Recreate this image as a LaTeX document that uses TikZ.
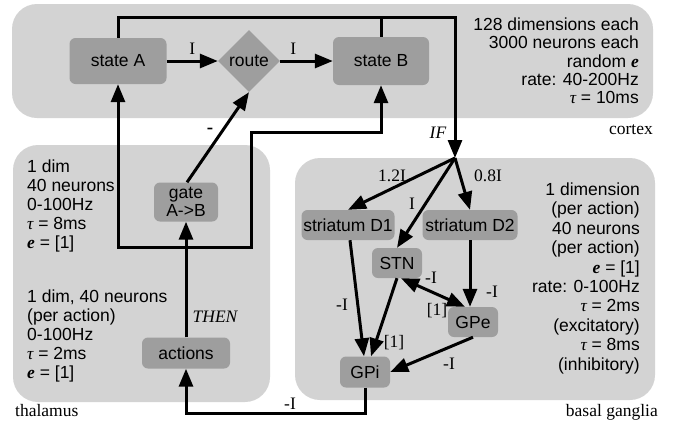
\documentclass[tikz,border=0pt]{standalone}
\usepackage{fontspec}
\setmainfont{Liberation Sans}
\newfontfamily\serif{Liberation Serif}
\usetikzlibrary{arrows.meta}
\usetikzlibrary{shapes.geometric}
\definecolor{regiongray}{RGB}{211,211,211}
\definecolor{popgray}{RGB}{158,158,158}
\newcommand{\evec}{{\serif\bfseries\itshape e}}
\newcommand{\tconst}{{\serif\itshape τ}}

\begin{document}
\begin{tikzpicture}[x=1pt,y=-1pt,font=\fontsize{17.5}{19}\selectfont,
  >={Triangle[length=18pt,width=14pt]},
  region/.style={fill=regiongray,rounded corners=25pt},
  pop/.style={fill=popgray,rounded corners=6pt,minimum height=30pt,inner sep=0pt},
  wire/.style={line width=3pt},
  lbl/.style={font=\serif\fontsize{17.5}{19}\selectfont,inner sep=0pt},
  info/.style={inner sep=0pt}]
\useasboundingbox (0,0) rectangle (674,421);
\fill[region] (12,4) rectangle (653,118);
\fill[region] (13,145) rectangle (270,402);
\fill[region] (295,158) rectangle (655,400);
\node[lbl,anchor=base east] (cortexlbl) at (653,134) {cortex};
\node[lbl,anchor=base west] (thallbl) at (15,416) {thalamus};
\node[lbl,anchor=base east] (bglbl) at (658,416) {basal ganglia};
\node[info,anchor=north east,align=right,font=\fontsize{17.5}{18.4}\selectfont] (cortexinfo) at (639,17.4)
  {128 dimensions each\\3000 neurons each\\random \evec\\rate: 40-200Hz\\\tconst{} = 10ms};
\node[info,anchor=north west,align=left] (gateinfo) at (27,159.6)
  {1 dim\\40 neurons\\0-100Hz\\\tconst{} = 8ms\\\evec{} = [1]};
\node[info,anchor=north west,align=left] (actinfo) at (27,289.6)
  {1 dim, 40 neurons\\(per action)\\0-100Hz\\\tconst{} = 2ms\\\evec{} = [1]};
\node[info,anchor=north east,align=right,font=\fontsize{17.5}{19.4}\selectfont] (bginfo) at (640,182.6)
  {1 dimension\\(per action)\\40 neurons\\(per action)\\\evec{} = [1]\\rate: 0-100Hz\\\tconst{} = 2ms\\(excitatory)\\\tconst{} = 8ms\\(inhibitory)};

\node[pop,minimum width=97pt,minimum height=46pt] (stateA) at (118,61) {state A};
\node[diamond,fill=popgray,minimum width=62pt,minimum height=62pt,inner sep=0pt] (route) at (249,61) {route};
\node[pop,minimum width=96pt,minimum height=48pt] (stateB) at (381,61) {state B};
\node[pop,minimum width=64pt,minimum height=39pt,align=center,font=\fontsize{17.5}{18}\selectfont] (gate) at (186,202) {gate\\A->B};
\node[pop,minimum width=88pt,minimum height=31pt] (actions) at (186,353) {actions};
\node[pop,minimum width=93pt] (d1) at (348,225) {striatum D1};
\node[pop,minimum width=95pt] (d2) at (470,225) {striatum D2};
\node[pop,minimum width=50pt] (stn) at (397,263) {STN};
\node[pop,minimum width=50pt] (gpe) at (473,322) {GPe};
\node[pop,minimum width=50pt,minimum height=31pt] (gpi) at (365,372) {GPi};

\coordinate (fan) at (455,158);
\coordinate (topright) at (455,17);
\coordinate (junc) at (186,247);
\coordinate (loopR) at (251,132);
\coordinate (thalbase) at (186,413);

\draw[wire,->] (stateA.east) -- (route.west) node[lbl,midway,above=5pt] {I};
\draw[wire,->] (route.east) -- (stateB.west) node[lbl,pos=0.25,above=5pt] {I};
\draw[wire,->] (stateA.north) |- (topright) -- (fan);
\draw[wire] (stateB.north) -- (stateB.north |- topright);
\node[lbl,font=\serif\itshape\fontsize{17.5}{19}\selectfont] (iflbl) at (438,133) {IF};

\draw[wire,->] (junc) -| (stateA.south);
\draw[wire,->] (junc) -| (loopR) -| (stateB.south);
\draw[wire,->] (actions.north) -- (gate.south);
\node[lbl,font=\serif\itshape\fontsize{17.5}{19}\selectfont] (thenlbl) at (215,317) {THEN};
\draw[wire,->] ([xshift=1pt]gate.north) -- (route.south);
\node[lbl,font=\serif\bfseries\fontsize{19}{19}\selectfont] (gatelbl) at (210,131) {-};

\draw[wire,->] (fan) -- (d1.north);
\draw[wire,->] (fan) -- (stn.north);
\draw[wire,->] (fan) -- (d2.north);
\node[lbl] (d1lbl) at (392,176) {1.2I};
\node[lbl] (stnlbl) at (412,204) {I};
\node[lbl] (d2lbl) at (488,176) {0.8I};

\draw[wire,->] ([xshift=2pt]d1.south) -- ([xshift=-1pt]gpi.north);
\draw[wire,->] (stn.south) -- ([xshift=6pt]gpi.north);
\draw[wire,->] (d2.south) -- (d2.south |- gpe.north);
\draw[wire,<->] ([xshift=4pt]stn.south) -- ([xshift=-8pt]gpe.north);
\draw[wire,->] (gpe.south) -- (gpi.east);
\node[lbl] (d1gpilbl) at (342,305) {-I};
\node[lbl] (stngpilbl) at (394,343) {[1]};
\node[lbl] (d2gpelbl) at (492,292) {-I};
\node[lbl] (stngpelbl) at (431,278) {-I};
\node[lbl] (gpestnlbl) at (437,311) {[1]};
\node[lbl] (gpegpilbl) at (449,364) {-I};

\draw[wire,->] (gpi.south) |- (thalbase) -- (actions.south);
\node[lbl] (gpiactlbl) at (290,404) {-I};
\end{tikzpicture}
\end{document}
